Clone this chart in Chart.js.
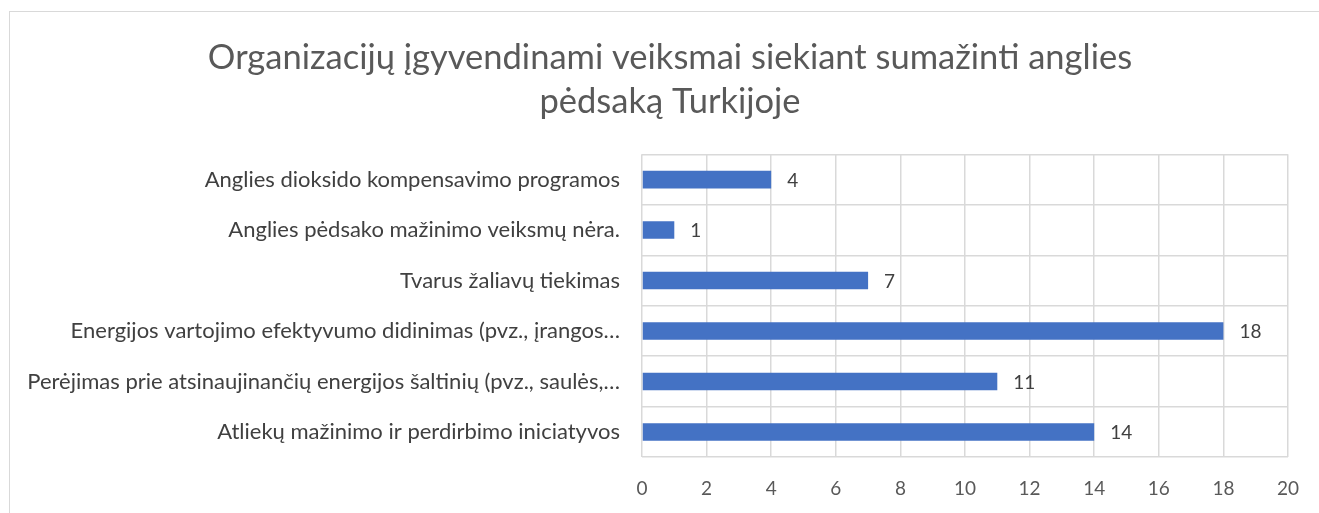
<!DOCTYPE html>
<html>
<head>
<meta charset="utf-8">
<script src="https://cdn.jsdelivr.net/npm/chart.js@4"></script>
<style>
  html, body { margin: 0; padding: 0; background: #fff; overflow: hidden; }
  #box { position: absolute; left: 9px; top: 11px; width: 1320px; height: 540px; border: 1px solid #d9d9d9; }
  canvas { display: block; }
</style>
</head>
<body>
<div id="box"><canvas id="chart" width="1320" height="521"></canvas></div>
<script>
// ================= DATA =================
const categories = [
    "Anglies dioksido kompensavimo programos",
    "Anglies pėdsako mažinimo veiksmų nėra.",
    "Tvarus žaliavų tiekimas",
    "Energijos vartojimo efektyvumo didinimas (pvz., įrangos…",
    "Perėjimas prie atsinaujinančių energijos šaltinių (pvz., saulės,…",
    "Atliekų mažinimo ir perdirbimo iniciatyvos"
];
const counts = [4, 1, 7, 18, 11, 14];
const titleLines = ["Organizacijų įgyvendinami veiksmai siekiant sumažinti anglies", "pėdsaką Turkijoje"];

const FONT = "Lato, sans-serif";

// value labels next to bar ends
const barLabels = {
    id: "barLabels",
    afterDatasetsDraw(chart) {
        const ctx = chart.ctx;
        const meta = chart.getDatasetMeta(0);
        ctx.save();
        ctx.font = "19px " + FONT;
        ctx.fillStyle = "#404040";
        ctx.textAlign = "left";
        ctx.textBaseline = "middle";
        meta.data.forEach((bar, i) => {
            ctx.fillText(String(counts[i]), bar.x + 16, bar.y + 1);
        });
        ctx.restore();
    }
};

new Chart(document.getElementById("chart"), {
    type: "bar",
    data: {
        labels: categories,
        datasets: [{
            data: counts,
            backgroundColor: "#4472c4",
            categoryPercentage: 1,
            barPercentage: 0.35
        }]
    },
    options: {
        indexAxis: "y",
        responsive: false,
        animation: false,
        layout: { padding: { left: 0, right: 0, top: 0, bottom: 13 } },
        plugins: {
            legend: { display: false },
            tooltip: { enabled: false },
            title: {
                display: true,
                text: titleLines,
                color: "#595959",
                font: { family: FONT, size: 34.5, weight: "normal", lineHeight: 1.28 },
                padding: { top: 24, bottom: 30 }
            }
        },
        scales: {
            x: {
                min: 0,
                max: 20,
                afterFit(scale) { scale.paddingRight = 42; },
                ticks: { stepSize: 2, color: "#595959", font: { family: FONT, size: 19 }, padding: 20 },
                grid: { color: "#d9d9d9", lineWidth: 1.5, drawTicks: false },
                border: { display: false }
            },
            y: {
                afterFit(scale) { scale.width = 632; },
                ticks: { color: "#404040", font: { family: FONT, size: 22 }, padding: 22 },
                grid: { color: "#d9d9d9", lineWidth: 1.5, drawTicks: false },
                border: { display: false }
            }
        }
    },
    plugins: [barLabels]
});
</script>
</body>
</html>
